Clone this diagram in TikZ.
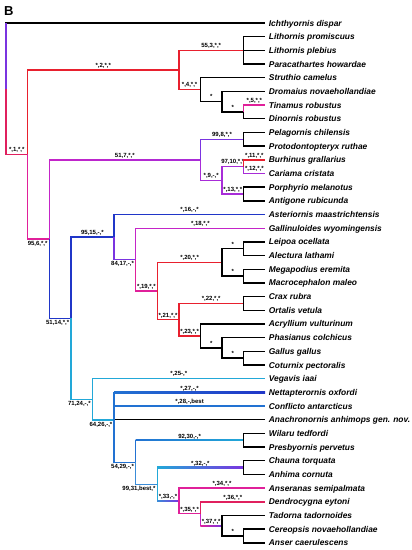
\documentclass[tikz,border=0pt]{standalone}
\usepackage{fontspec}
\setmainfont{Liberation Sans}
\usepackage{tikz}

% Farben der Aeste
\definecolor{astRot}{HTML}{E8202E}
\definecolor{astRosa}{HTML}{E0205E}
\definecolor{astPink}{HTML}{E0209A}
\definecolor{astMag}{HTML}{C424C8}
\definecolor{astLila}{HTML}{A82CD8}
\definecolor{astViol}{HTML}{7A34E0}
\definecolor{astBlau}{HTML}{2036C8}
\definecolor{astMblau}{HTML}{2272D2}
\definecolor{astCblau}{HTML}{3A8CD8}
\definecolor{astCviol}{HTML}{4F6AD8}
\definecolor{astCyan}{HTML}{22A8D8}

\tikzset{
  ast/.style={line width=1.4pt},
  tipl/.style={anchor=west, inner xsep=3.5pt, inner ysep=0pt, text height=6pt, text depth=0pt,
    font=\fontsize{8.4}{8.4}\selectfont\bfseries\itshape},
  lab/.style={pos=0.75, anchor=south, inner sep=0.8pt, text height=4.4pt, text depth=1.2pt,
    text=black, font=\fontsize{6}{6}\selectfont\bfseries},
  labu/.style={pos=1, anchor=north east, inner sep=1pt, text height=4.4pt, text depth=1.2pt,
    text=black, font=\fontsize{6}{6}\selectfont\bfseries}
}

\begin{document}
\begin{tikzpicture}[x=21.6pt,y=-13.68pt]
	\useasboundingbox (-6pt,23pt) rectangle (406pt,-527pt);
	\node[anchor=base west, inner sep=0pt, font=\fontsize{13}{13}\selectfont\bfseries] (titel) at (-2pt,8pt) {B};
	% Taxa
	\node[tipl] (t0) at (12,0) {Ichthyornis dispar};
	\node[tipl] (t1) at (12,1) {Lithornis promiscuus};
	\node[tipl] (t2) at (12,2) {Lithornis plebius};
	\node[tipl] (t3) at (12,3) {Paracathartes howardae};
	\node[tipl] (t4) at (12,4) {Struthio camelus};
	\node[tipl] (t5) at (12,5) {Dromaius novaehollandiae};
	\node[tipl] (t6) at (12,6) {Tinamus robustus};
	\node[tipl] (t7) at (12,7) {Dinornis robustus};
	\node[tipl] (t8) at (12,8) {Pelagornis chilensis};
	\node[tipl] (t9) at (12,9) {Protodontopteryx ruthae};
	\node[tipl] (t10) at (12,10) {Burhinus grallarius};
	\node[tipl] (t11) at (12,11) {Cariama cristata};
	\node[tipl] (t12) at (12,12) {Porphyrio melanotus};
	\node[tipl] (t13) at (12,13) {Antigone rubicunda};
	\node[tipl] (t14) at (12,14) {Asteriornis maastrichtensis};
	\node[tipl] (t15) at (12,15) {Gallinuloides wyomingensis};
	\node[tipl] (t16) at (12,16) {Leipoa ocellata};
	\node[tipl] (t17) at (12,17) {Alectura lathami};
	\node[tipl] (t18) at (12,18) {Megapodius eremita};
	\node[tipl] (t19) at (12,19) {Macrocephalon maleo};
	\node[tipl] (t20) at (12,20) {Crax rubra};
	\node[tipl] (t21) at (12,21) {Ortalis vetula};
	\node[tipl] (t22) at (12,22) {Acryllium vulturinum};
	\node[tipl] (t23) at (12,23) {Phasianus colchicus};
	\node[tipl] (t24) at (12,24) {Gallus gallus};
	\node[tipl] (t25) at (12,25) {Coturnix pectoralis};
	\node[tipl] (t26) at (12,26) {Vegavis iaai};
	\node[tipl] (t27) at (12,27) {Nettapterornis oxfordi};
	\node[tipl] (t28) at (12,28) {Conflicto antarcticus};
	\node[tipl] (t29) at (12,29) {Anachronornis anhimops gen. nov.};
	\node[tipl] (t30) at (12,30) {Wilaru tedfordi};
	\node[tipl] (t31) at (12,31) {Presbyornis pervetus};
	\node[tipl] (t32) at (12,32) {Chauna torquata};
	\node[tipl] (t33) at (12,33) {Anhima cornuta};
	\node[tipl] (t34) at (12,34) {Anseranas semipalmata};
	\node[tipl] (t35) at (12,35) {Dendrocygna eytoni};
	\node[tipl] (t36) at (12,36) {Tadorna tadornoides};
	\node[tipl] (t37) at (12,37) {Cereopsis novaehollandiae};
	\node[tipl] (t38) at (12,38) {Anser caerulescens};
	% innere Knoten
	\coordinate (root) at (0,4.81);
	\coordinate (n1) at (1,9.61);
	\coordinate (n2) at (8,3.4375);
	\coordinate (n3) at (11,2);
	\coordinate (n4) at (9,4.875);
	\coordinate (d5) at (10,5.75);
	\coordinate (d6) at (11,6.5);
	\coordinate (n6) at (2,15.79);
	\coordinate (n7) at (9,10);
	\coordinate (n8) at (11,8.5);
	\coordinate (n9) at (10,11.5);
	\coordinate (n10) at (11,10.5);
	\coordinate (n13) at (11,12.5);
	\coordinate (n14) at (3,21.58);
	\coordinate (n15) at (5,15.65);
	\coordinate (n17) at (6,17.3);
	\coordinate (n19) at (7,19.59);
	\coordinate (n20) at (10,17.5);
	\coordinate (d16) at (11,16.5);
	\coordinate (d18) at (11,18.5);
	\coordinate (n21) at (8,21.69);
	\coordinate (n22) at (11,20.5);
	\coordinate (n23) at (9,22.875);
	\coordinate (d23) at (10,23.75);
	\coordinate (d24) at (11,24.5);
	\coordinate (n24) at (4,27.51);
	\coordinate (n26) at (5,29.03);
	\coordinate (n29) at (6,32.11);
	\coordinate (n30) at (11,30.5);
	\coordinate (n31) at (7,33.72);
	\coordinate (n32) at (11,32.5);
	\coordinate (n33) at (8,34.94);
	\coordinate (n35) at (9,35.875);
	\coordinate (n37) at (10,36.75);
	\coordinate (d37) at (11,37.5);
	% Wurzel
	\draw[ast] (root) |- (t0.west);
	\draw[ast,astViol] (root) -- (root |- t0.west);
	\draw[ast,astRosa] (root) |- node[lab] {*,1,*,*} (n1);
	% Palaeognathae und Verwandte
	\draw[ast,astRot] (n1) |- node[lab] {*,2,*,*} (n2);
	\draw[ast,astRot] (n2) |- node[lab] {55,3,*,*} (n3);
	\draw[ast,astRot] (n2) |- node[lab] {*,4,*,*} (n4);
	\draw[ast] (n3) |- (t1.west);
	\draw[ast] (n3) |- (t2.west);
	\draw[ast] (n3) |- (t3.west);
	\draw[ast] (n4) |- (t4.west);
	\draw[ast] (n4) |- node[lab] {*} (d5);
	\draw[ast] (d5) |- (t5.west);
	\draw[ast] (d5) |- node[lab] {*} (d6);
	\draw[ast,astPink] (d6) |- node[lab] {*,5,*,*} (t6.west);
	\draw[ast] (d6) |- (t7.west);
	% Neoaves
	\draw[ast,astPink] (n1) |- node[labu] {95,6,*,*} (n6);
	\draw[ast,astMag] (n6) |- (n7);
	\shade[left color=astMag, right color=astLila] ([yshift=0.7pt]n6 |- n7) rectangle ([yshift=-0.7pt]n7);
	\path (n6) |- node[lab] {51,7,*,*} (n7);
	\draw[ast,astViol] (n7) |- node[lab] {99,8,*,*} (n8);
	\draw[ast] (n8) |- (t8.west);
	\draw[ast] (n8) |- (t9.west);
	\draw[ast,astLila] (n7) |- node[lab] {*,9,-,*} (n9);
	\draw[ast,astLila] (n9) |- node[lab] {97,10,*,*} (n10);
	\draw[ast,astRot] (n10) |- node[lab] {*,11,*,*} (t10.west);
	\draw[ast,astLila] (n10) |- node[lab] {*,12,*,*} (t11.west);
	\draw[ast,astLila] (n9) |- node[lab] {*,13,*,*} (n13);
	\draw[ast] (n13) |- (t12.west);
	\draw[ast] (n13) |- (t13.west);
	% Galloanserae
	\draw[ast,astBlau] (n6) |- node[labu] {51,14,*,*} (n14);
	\draw[ast,astBlau] (n14) |- node[lab] {95,15,-,*} (n15);
	\draw[ast,astBlau] (n15) |- node[lab] {*,16,-,*} (t14.west);
	\draw[ast,astViol] (n15) |- node[labu] {84,17,-,*} (n17);
	\draw[ast,astMag] (n17) |- node[lab] {*,18,*,*} (t15.west);
	\draw[ast,astPink] (n17) |- node[lab] {*,19,*,*} (n19);
	\draw[ast,astRot] (n19) |- node[lab] {*,20,*,*} (n20);
	\draw[ast] (n20) |- node[lab] {*} (d16);
	\draw[ast] (n20) |- node[lab] {*} (d18);
	\draw[ast] (d16) |- (t16.west);
	\draw[ast] (d16) |- (t17.west);
	\draw[ast] (d18) |- (t18.west);
	\draw[ast] (d18) |- (t19.west);
	\draw[ast,astRot] (n19) |- node[lab] {*,21,*,*} (n21);
	\draw[ast,astRot] (n21) |- node[lab] {*,22,*,*} (n22);
	\draw[ast] (n22) |- (t20.west);
	\draw[ast] (n22) |- (t21.west);
	\draw[ast,astRot] (n21) |- node[lab] {*,23,*,*} (n23);
	\draw[ast] (n23) |- (t22.west);
	\draw[ast] (n23) |- node[lab] {*} (d23);
	\draw[ast] (d23) |- (t23.west);
	\draw[ast] (d23) |- node[lab] {*} (d24);
	\draw[ast] (d24) |- (t24.west);
	\draw[ast] (d24) |- (t25.west);
	% Anseriformes
	\draw[ast,astCyan] (n14) |- node[labu] {71,24,-,*} (n24);
	\draw[ast,astCyan] (n24) |- node[lab] {*,25-,*} (t26.west);
	\draw[ast,astCyan] (n24) |- node[labu] {64,26,-,*} (n26);
	\draw[ast] (n26) |- (t29.west);
	\draw[ast,astMblau] (n26) |- (t27.west);
	\shade[left color=astMblau, right color=astBlau] ([yshift=0.7pt]n26 |- t27.west) rectangle ([yshift=-0.7pt]t27.west);
	\path (n26) |- node[lab] {*,27,-,*} (t27.west);
	\draw[ast,astMblau] (n26) |- node[lab] {*,28,-,best} (t28.west);
	\draw[ast,astMblau] (n26) |- node[labu] {54,29,-,*} (n29);
	\draw[ast,astMblau] (n29) |- (n30);
	\shade[left color=astMblau, right color=astCyan] ([yshift=0.7pt]n29 |- n30) rectangle ([yshift=-0.7pt]n30);
	\path (n29) |- node[lab] {92,30,-,*} (n30);
	\draw[ast] (n30) |- (t30.west);
	\draw[ast] (n30) |- (t31.west);
	\draw[ast,astCblau] (n29) |- node[labu] {99,31,best,*} (n31);
	\draw[ast,astCyan] (n31) |- (n32);
	\shade[left color=astCyan, right color=astViol] ([yshift=0.7pt]n31 |- n32) rectangle ([yshift=-0.7pt]n32);
	\path (n31) |- node[lab] {*,32,-,*} (n32);
	\draw[ast] (n32) |- (t32.west);
	\draw[ast] (n32) |- (t33.west);
	\draw[ast,astCyan] (n31) |- (n33);
	\shade[left color=astCblau, right color=astViol] ([yshift=0.7pt]n31 |- n33) rectangle ([yshift=-0.7pt]n33);
	\path (n31) |- node[lab] {*,33,-,*} (n33);
	\draw[ast,astPink] (n33) |- node[lab] {*,34,*,*} (t34.west);
	\draw[ast,astPink] (n33) |- node[lab] {*,35,*,*} (n35);
	\draw[ast,astRosa] (n35) |- node[lab] {*,36,*,*} (t35.west);
	\draw[ast,astMag] (n35) |- (n37);
	\shade[left color=astPink, right color=astViol] ([yshift=0.7pt]n35 |- n37) rectangle ([yshift=-0.7pt]n37);
	\path (n35) |- node[lab] {*,37,*,*} (n37);
	\draw[ast] (n37) |- (t36.west);
	\draw[ast] (n37) |- node[lab] {*} (d37);
	\draw[ast] (d37) |- (t37.west);
	\draw[ast] (d37) |- (t38.west);
\end{tikzpicture}
\end{document}
